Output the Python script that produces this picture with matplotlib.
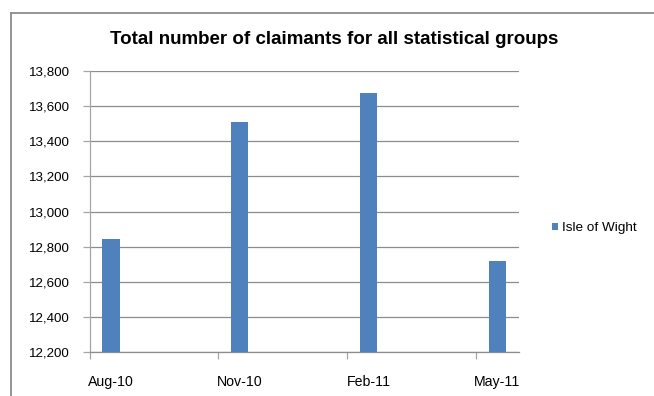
import matplotlib.pyplot as plt
from matplotlib.lines import Line2D
from matplotlib.ticker import FuncFormatter

# data
months = ['Aug-10', 'Nov-10', 'Feb-11', 'May-11']
month_index = [0, 3, 6, 9]          # months since Aug-10 (date axis)
claimants = [12844, 13510, 13676, 12720]
series_name = 'Isle of Wight'

plt.rcParams['font.family'] = ['Liberation Sans', 'DejaVu Sans']

fig = plt.figure(figsize=(6.54, 3.96), dpi=100)
ax = fig.add_axes([0.137, 0.1104, 0.6566, 0.7104])

ax.bar(month_index, claimants, width=0.4, color='#4f81bd', label=series_name, zorder=3)

ax.set_xlim(-0.5, 9.5)
ax.set_ylim(12200, 13800)
ax.set_yticks(range(12200, 13801, 200))
ax.yaxis.set_major_formatter(FuncFormatter(lambda v, p: f'{int(v):,}'))
ax.grid(axis='y', color='#8c8c8c', linewidth=0.9, zorder=0)

# labels centred on the month, tick marks on month boundaries
ax.set_xticks(month_index)
ax.set_xticklabels(months)
ax.tick_params(axis='x', length=0, pad=16, labelsize=10.2, colors='#000000')
ax.set_xticks([-0.5, 2.5, 5.5, 8.5], minor=True)
ax.tick_params(axis='x', which='minor', length=5, color='#a6a6a6', width=0.9)
ax.tick_params(axis='y', length=5, color='#a6a6a6', width=0.9, labelsize=9.6, pad=9)

for s in ['top', 'right']:
    ax.spines[s].set_visible(False)
ax.spines['left'].set_color('#a6a6a6')
ax.spines['bottom'].set_color('#8c8c8c')
ax.spines['left'].set_linewidth(0.9)
ax.spines['bottom'].set_linewidth(0.9)

fig.text(334 / 654, 1 - 40 / 396, 'Total number of claimants for all statistical groups',
         ha='center', va='center', fontsize=13.5, fontweight='bold')

fig.legend(loc='center left', bbox_to_anchor=(545 / 654, 1 - 228 / 396), frameon=False,
           handlelength=0.45, handleheight=0.45, handletextpad=0.3, borderpad=0,
           fontsize=9.7)

# chart area border (cropped on the right and bottom)
fig.add_artist(Line2D([10.5 / 654, 1.0], [1 - 12.5 / 396] * 2, color='#8c8c8c', lw=1.3))
fig.add_artist(Line2D([10.5 / 654] * 2, [0, 1 - 12.5 / 396], color='#8c8c8c', lw=1.3))

fig.savefig('out.png', dpi=100)
